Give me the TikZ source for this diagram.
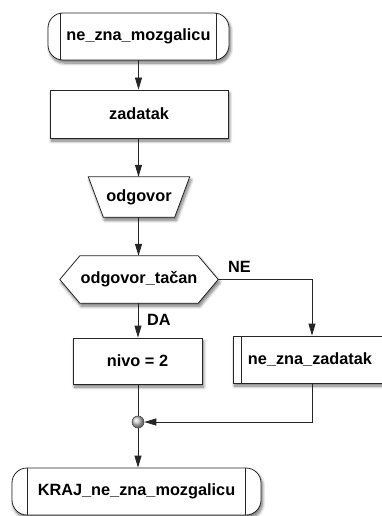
\documentclass[tikz,border=0pt]{standalone}
\usepackage{fontspec}
\setmainfont{Liberation Sans}
\usetikzlibrary{arrows.meta,shapes.geometric,shadows.blur}
\begin{document}
\begin{tikzpicture}[x=1pt,y=-1pt,
  font=\fontsize{16.3}{19}\selectfont\bfseries,
  line/.style={draw=black!85,line width=0.8pt},
  arr/.style={line,-{Triangle[width=7pt,length=12pt]}},
  shad/.style={blur shadow={shadow xshift=1.5pt,shadow yshift=-3pt,shadow blur steps=8,shadow blur radius=3pt,shadow opacity=55}},
  boxst/.style={line,fill=white,shad,rectangle,inner sep=0pt},
  termst/.style={boxst,rounded corners=15pt},
  lbl/.style={inner sep=0pt}
]
\useasboundingbox (0,0) rectangle (381,516);
% nodes
\node[termst,minimum width=181pt,minimum height=47pt] (start) at (138.5,36.5) {ne\_zna\_mozgalicu};
\draw[line] ([xshift=13pt]start.north west) -- ([xshift=13pt]start.south west);
\draw[line] ([xshift=-13pt]start.north east) -- ([xshift=-13pt]start.south east);

\node[boxst,minimum width=178pt,minimum height=48pt] (zad) at (139,114) {zadatak};

\node[lbl,minimum width=101pt,minimum height=40pt] (odg) at (139,197) {};
\draw[line,fill=white,shad] (odg.north west) -- (odg.north east) -- ([xshift=-15pt]odg.south east)
   -- ([xshift=15pt]odg.south west) -- cycle;
\node[lbl] (odgtxt) at (odg.center) {odgovor};

\node[lbl,minimum width=158pt,minimum height=47pt] (dec) at (139,279.5) {};
\draw[line,fill=white,shad] (dec.west) -- ([xshift=20pt]dec.north west) -- ([xshift=-20pt]dec.north east)
   -- (dec.east) -- ([xshift=-20pt]dec.south east) -- ([xshift=20pt]dec.south west) -- cycle;
\node[lbl] (dectxt) at (dec.center) {odgovor\_ta\v{c}an};

\node[boxst,minimum width=129pt,minimum height=46pt] (nivo) at (137.5,361) {nivo = 2};

\node[boxst,minimum width=158pt,minimum height=47pt] (nez) at (312,359.5) {};
\draw[line] ([xshift=9pt]nez.north west) -- ([xshift=9pt]nez.south west);
\draw[line] ([xshift=-9pt]nez.north east) -- ([xshift=-9pt]nez.south east);
\node[lbl] (neztxt) at (310,359.5) {ne\_zna\_zadatak};

\node[circle,draw=black!70,line width=0.6pt,ball color=gray!40,minimum size=12pt,inner sep=0pt] (j) at (138,422) {};

\node[termst,minimum width=249pt,minimum height=47pt] (end) at (136.5,491.5) {KRAJ\_ne\_zna\_mozgalicu};
\draw[line] ([xshift=16pt]end.north west) -- ([xshift=16pt]end.south west);
\draw[line] ([xshift=-16pt]end.north east) -- ([xshift=-16pt]end.south east);

% connectors
\draw[arr] (start.south) -- (zad.north -| start.south);
\draw[arr] (zad.south -| start.south) -- (odg.north -| start.south);
\draw[arr] (odg.south -| start.south) -- (dec.north -| start.south);
\draw[arr] (dec.south -| j) -- (nivo.north -| j);
\coordinate (ne1) at (dec.east -| nez.north);
\draw[arr] (dec.east) -- (ne1) -- (nez.north);
\draw[line] (nivo.south -| j) -- (j.north);
\coordinate (nz1) at (j -| nez.south);
\draw[arr] (nez.south) -- (nz1) -- (j.east);
\draw[arr] (j.south) -- (end.north -| j);

% labels
\node[lbl,anchor=west] (nel) at (228,267) {NE};
\node[lbl,anchor=west] (dal) at (147,320) {DA};
\end{tikzpicture}
\end{document}
